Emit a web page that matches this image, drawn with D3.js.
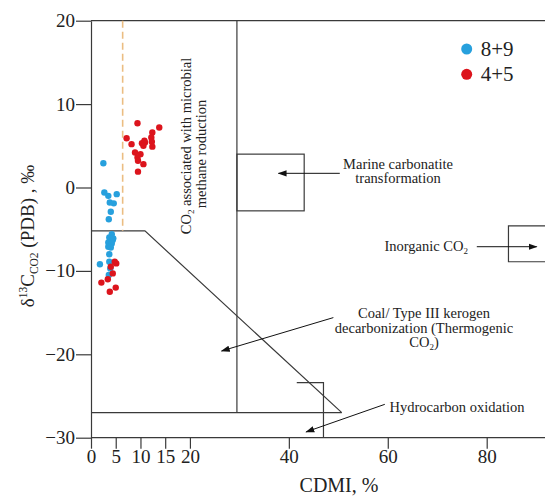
<!DOCTYPE html>
<html>
<head>
<meta charset="utf-8">
<script src="https://cdn.jsdelivr.net/npm/d3@7"></script>
<style>
  body { margin: 0; background: #fff; }
  svg text { font-family: "Liberation Serif", "DejaVu Serif", serif !important; }
</style>
</head>
<body>
<svg id="chart" width="545" height="497"></svg>
<script>
// samples 8+9 [CDMI %, d13C]
const blue89 = [
    [2.5, 2.9], [2.7, -0.6], [3.5, -1.0], [5.2, -0.8], [3.8, -1.8], [4.6, -1.9],
    [4.0, -2.9], [3.6, -3.8], [4.2, -5.6], [3.7, -6.0], [4.4, -6.3], [4.5, -6.1],
    [3.5, -6.6], [4.2, -6.7], [3.5, -7.1], [4.0, -7.2], [3.7, -8.0], [1.8, -9.2],
    [3.7, -8.9], [3.9, -9.7], [3.6, -10.5]
];
// samples 4+5
const red45 = [
    [9.4, 7.7], [13.8, 7.2], [12.4, 6.6], [7.2, 5.9], [12.2, 6.0], [12.3, 5.5],
    [8.2, 5.2], [10.8, 5.6], [10.3, 5.3], [10.9, 5.4], [10.6, 5.0], [12.4, 4.9],
    [8.9, 4.2], [10.0, 4.0], [9.4, 3.6], [9.5, 3.2], [10.6, 2.8], [9.5, 1.9],
    [4.8, -8.9], [5.1, -9.1], [4.0, -9.5], [4.4, -10.3], [2.1, -11.4], [3.4, -11.0],
    [5.0, -12.0], [3.8, -12.5]
];
const xTicks = [0, 5, 10, 15, 20, 40, 60, 80];
const yTicks = [20, 10, 0, -10, -20, -30];
const series = ["8+9", "4+5"];

// region boundaries in data units
const microbialLimit = [[0, -5.2], [10.9, -5.2], [50.7, -27]];
const dividerX = 29.5;
const hydroTop = -27;
const hydroStep = [[41.6, -23.4], [47, -23.4], [47, -30]];
const marineBox = {x0: 29.5, x1: 43.1, y0: 4, y1: -2.8};
const inorganicBox = {x0: 84.4, x1: 93, y0: -4.6, y1: -8.9};
const dashX = 6.4;

const colors = {"8+9": "#27a0dd", "4+5": "#dc141c"};
const lineColor = "#3a3a3a";
const noteSize = 14.5;

const svg = d3.select("#chart");
const x = d3.scaleLinear().domain([0, 80]).range([91, 486.7]);
const y = d3.scaleLinear().domain([-30, 20]).range([437.7, 20.7]);

svg.append("defs").append("marker")
    .attr("id", "arrow")
    .attr("viewBox", "0 0 10 10")
    .attr("refX", 9).attr("refY", 5)
    .attr("markerWidth", 9).attr("markerHeight", 9)
    .attr("markerUnits", "userSpaceOnUse")
    .attr("orient", "auto")
    .append("path")
    .attr("d", "M0,1.5 L10,5 L0,8.5 Z")
    .attr("fill", "#111");

const line = d3.line().x(d => x(d[0])).y(d => y(d[1]));

// axes
const yAxis = svg.append("g")
    .attr("transform", `translate(${x(0)},0)`)
    .call(d3.axisLeft(y).tickValues(yTicks).tickSize(15).tickSizeOuter(0).tickPadding(1)
        .tickFormat(d => d < 0 ? "\u2212" + Math.abs(d) : d));
const xAxis = svg.append("g")
    .attr("transform", `translate(0,${y(-30)})`)
    .call(d3.axisBottom(x).tickValues(xTicks).tickSize(11).tickSizeOuter(0).tickPadding(1));
xAxis.select(".domain").attr("d", `M${x(0)},0H545`);
[xAxis, yAxis].forEach(a => {
    a.attr("font-family", null);
    a.selectAll("line, path").attr("stroke", lineColor).attr("stroke-width", 1.2);
    a.selectAll("text").attr("font-size", 19).attr("fill", "#222");
});

// frame top
svg.append("path").attr("d", line([[0, 20], [93, 20]]))
    .attr("stroke", lineColor).attr("stroke-width", 1.2).attr("fill", "none");

// region lines
const g = svg.append("g").attr("fill", "none").attr("stroke", lineColor).attr("stroke-width", 1.2);
g.append("path").attr("d", line(microbialLimit));
g.append("path").attr("d", line([[dividerX, 20], [dividerX, hydroTop]]));
g.append("path").attr("d", line([[0, hydroTop], [50.7, hydroTop]]));
g.append("path").attr("d", line(hydroStep));
g.append("rect")
    .attr("x", x(marineBox.x0)).attr("y", y(marineBox.y0))
    .attr("width", x(marineBox.x1) - x(marineBox.x0))
    .attr("height", y(marineBox.y1) - y(marineBox.y0));
g.append("path").attr("d", line([[93, inorganicBox.y0], [inorganicBox.x0, inorganicBox.y0],
    [inorganicBox.x0, inorganicBox.y1], [93, inorganicBox.y1]]));

// dashed boundary
svg.append("path").attr("d", line([[dashX, 20], [dashX, -5.2]]))
    .attr("stroke", "#ebbd82").attr("stroke-width", 1.6).attr("stroke-dasharray", "7,4");

// arrows
const arrows = [
    [[50.3, 1.7], [37.9, 1.7]],
    [[78, -7.1], [90.1, -7.1]],
    [[49, -15.6], [26.4, -19.6]],
    [[59.4, -26], [43.5, -29.3]]
];
svg.append("g").selectAll("path").data(arrows).join("path")
    .attr("d", d => line(d))
    .attr("stroke", "#111").attr("stroke-width", 1)
    .attr("marker-end", "url(#arrow)");

// annotation text
const notes = [
    {px: 398, py: 168.5, text: "Marine carbonatite"},
    {px: 398, py: 183, text: "transformation"},
    {px: 424, py: 318, text: "Coal/ Type III kerogen"},
    {px: 424, py: 332.5, text: "decarbonization (Thermogenic"},
    {px: 457, py: 411.5, text: "Hydrocarbon oxidation"}
];
svg.append("g").selectAll("text").data(notes).join("text")
    .attr("x", d => d.px).attr("y", d => d.py)
    .attr("text-anchor", "middle").attr("font-size", noteSize).attr("fill", "#222")
    .text(d => d.text);

const co2a = svg.append("text").attr("x", 424).attr("y", 347)
    .attr("text-anchor", "middle").attr("font-size", noteSize).attr("fill", "#222");
co2a.append("tspan").text("CO");
co2a.append("tspan").attr("font-size", 9).attr("dy", 3).text("2");
co2a.append("tspan").attr("dy", -3).text(")");

const inorg = svg.append("text").attr("x", 468).attr("y", 250.5)
    .attr("text-anchor", "end").attr("font-size", noteSize).attr("fill", "#222");
inorg.append("tspan").text("Inorganic CO");
inorg.append("tspan").attr("font-size", 9).attr("dy", 3).text("2");

const micro = svg.append("g").attr("transform", "translate(191,146) rotate(-90)");
const m1 = micro.append("text").attr("text-anchor", "middle").attr("font-size", noteSize).attr("fill", "#222");
m1.append("tspan").text("CO");
m1.append("tspan").attr("font-size", 9).attr("dy", 3).text("2");
m1.append("tspan").attr("dy", -3).text(" associated with microbial");
micro.append("text").attr("y", 14.5).attr("x", -8).attr("text-anchor", "middle")
    .attr("font-size", noteSize).attr("fill", "#222").text("methane roduction");

// points
const pts = svg.append("g");
pts.selectAll(".b").data(blue89).join("circle").attr("class", "b")
    .attr("cx", d => x(d[0])).attr("cy", d => y(d[1])).attr("r", 3.2)
    .attr("fill", colors["8+9"]);
pts.selectAll(".r").data(red45).join("circle").attr("class", "r")
    .attr("cx", d => x(d[0])).attr("cy", d => y(d[1])).attr("r", 3.2)
    .attr("fill", colors["4+5"]);

// legend
const legend = svg.append("g").selectAll("g").data(series).join("g")
    .attr("transform", (d, i) => `translate(466.7,${49 + i * 25.3})`);
legend.append("circle").attr("r", 5.5).attr("fill", d => colors[d]);
legend.append("text").attr("x", 14).attr("y", 7)
    .attr("font-size", 21).attr("fill", "#222").text(d => d);

// axis titles
svg.append("text").attr("x", 339).attr("y", 492)
    .attr("text-anchor", "middle").attr("font-size", 20).attr("fill", "#222")
    .text("CDMI, %");

const yl = svg.append("text").attr("transform", "translate(34,236) rotate(-90)")
    .attr("text-anchor", "middle").attr("font-size", 19).attr("fill", "#222");
yl.append("tspan").text("\u03b4");
yl.append("tspan").attr("font-size", 11.5).attr("dy", -7).text("13");
yl.append("tspan").attr("dy", 7).text("C");
yl.append("tspan").attr("font-size", 11.5).attr("dy", 4).text("CO2");
yl.append("tspan").attr("dy", -4).text(" (PDB) , \u2030");
</script>
</body>
</html>
